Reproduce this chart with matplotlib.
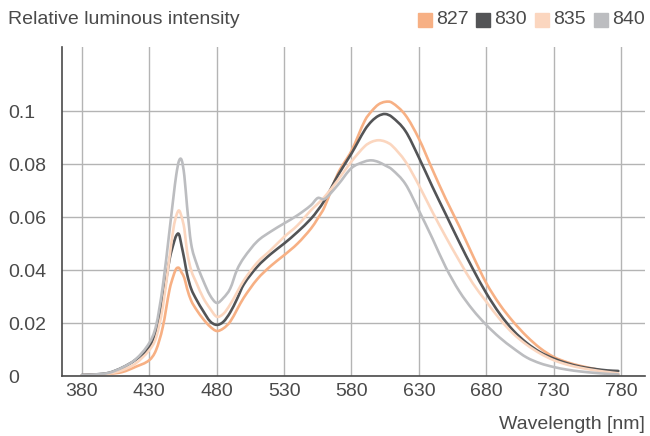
import matplotlib
matplotlib.use("Agg")
import matplotlib.pyplot as plt
from matplotlib.patches import Rectangle, PathPatch
from matplotlib.path import Path

# wavelengths [nm] and relative luminous intensity per colour temperature
wavelength = [380, 390, 400, 410, 420, 430, 435, 440, 445, 448, 450, 452, 454,
              456, 458, 461, 465, 470, 475, 480, 485, 490, 495, 500, 510, 520,
              530, 540, 550, 555, 560, 570, 580, 590, 595, 600, 605, 610, 620,
              630, 640, 650, 660, 670, 680, 690, 700, 710, 720, 730, 740, 750,
              760, 770, 778]

s827 = [0.0003, 0.0005, 0.0008, 0.0015, 0.0035, 0.0060, 0.0098, 0.0185, 0.0326,
        0.0380, 0.0405, 0.0408, 0.0390, 0.0370, 0.0330, 0.0285, 0.0250, 0.0215,
        0.0187, 0.0170, 0.0180, 0.0205, 0.0250, 0.0295, 0.0365, 0.0415, 0.0456,
        0.0500, 0.0557, 0.0595, 0.0638, 0.0765, 0.0850, 0.0965, 0.1000, 0.1025,
        0.1035, 0.1032, 0.0985, 0.0896, 0.0780, 0.0668, 0.0565, 0.0455, 0.0351,
        0.0270, 0.0205, 0.0150, 0.0105, 0.0072, 0.0052, 0.0038, 0.0027, 0.0016,
        0.0006]

s830 = [0.0004, 0.0006, 0.0012, 0.0032, 0.0062, 0.0110, 0.0172, 0.0285, 0.0440,
        0.0500, 0.0530, 0.0535, 0.0490, 0.0440, 0.0385, 0.0330, 0.0288, 0.0245,
        0.0207, 0.0193, 0.0205, 0.0240, 0.0290, 0.0345, 0.0412, 0.0460, 0.0500,
        0.0544, 0.0594, 0.0626, 0.0663, 0.0758, 0.0840, 0.0930, 0.0962, 0.0982,
        0.0989, 0.0978, 0.0925, 0.0825, 0.0715, 0.0610, 0.0505, 0.0405, 0.0313,
        0.0235, 0.0172, 0.0125, 0.0090, 0.0066, 0.0048, 0.0035, 0.0027, 0.0021,
        0.0019]

s835 = [0.0002, 0.0004, 0.0009, 0.0022, 0.0048, 0.0098, 0.0145, 0.0260, 0.0450,
        0.0560, 0.0605, 0.0625, 0.0600, 0.0555, 0.0470, 0.0400, 0.0351, 0.0295,
        0.0255, 0.0224, 0.0235, 0.0270, 0.0315, 0.0360, 0.0428, 0.0475, 0.0525,
        0.0569, 0.0626, 0.0650, 0.0676, 0.0740, 0.0810, 0.0868, 0.0884, 0.0890,
        0.0885, 0.0870, 0.0810, 0.0720, 0.0620, 0.0525, 0.0435, 0.0350, 0.0281,
        0.0215, 0.0160, 0.0118, 0.0085, 0.0060, 0.0043, 0.0031, 0.0022, 0.0015,
        0.0010]

s840 = [0.0004, 0.0006, 0.0012, 0.0032, 0.0064, 0.0125, 0.0190, 0.0340, 0.0550,
        0.0680, 0.0760, 0.0812, 0.0815, 0.0755, 0.0640, 0.0500, 0.0425, 0.0360,
        0.0305, 0.0276, 0.0295, 0.0330, 0.0400, 0.0445, 0.0508, 0.0545, 0.0576,
        0.0607, 0.0645, 0.0672, 0.0668, 0.0722, 0.0785, 0.0810, 0.0814, 0.0808,
        0.0795, 0.0780, 0.0725, 0.0625, 0.0520, 0.0410, 0.0320, 0.0250, 0.0193,
        0.0145, 0.0105, 0.0070, 0.0048, 0.0034, 0.0024, 0.0017, 0.0012, 0.0008,
        0.0006]

labels = ["827", "830", "835", "840"]
series = [s827, s830, s835, s840]
colors = ["#f7b084", "#535456", "#fbd6bf", "#bcbdc0"]

x_ticks = [380, 430, 480, 530, 580, 630, 680, 730, 780]
y_ticks = [0, 0.02, 0.04, 0.06, 0.08, 0.1]
y_tick_labels = ["0", "0.02", "0.04", "0.06", "0.08", "0.1"]

plt.rcParams['font.family'] = ['Liberation Sans', 'DejaVu Sans']
text_color = "#4a4a4a"


def smooth_path(xs, ys):
    """Cubic Bezier path through every point (cardinal tangents)."""
    n = len(xs)
    slopes = []
    for i in range(n):
        a, b = max(i - 1, 0), min(i + 1, n - 1)
        slopes.append((ys[b] - ys[a]) / (xs[b] - xs[a]))
    verts = [(xs[0], ys[0])]
    codes = [Path.MOVETO]
    for i in range(n - 1):
        h = xs[i + 1] - xs[i]
        verts += [(xs[i] + h / 3, ys[i] + slopes[i] * h / 3),
                  (xs[i + 1] - h / 3, ys[i + 1] - slopes[i + 1] * h / 3),
                  (xs[i + 1], ys[i + 1])]
        codes += [Path.CURVE4] * 3
    return Path(verts, codes)


W, H = 650, 436
fig = plt.figure(figsize=(W / 100, H / 100), dpi=100)
ax = fig.add_axes([62 / W, (H - 376) / H, (645 - 62) / W, (376 - 47) / H])

for vals, col in zip(series, colors):
    ax.add_patch(PathPatch(smooth_path(wavelength, vals), fill=False,
                           edgecolor=col, lw=1.9, capstyle='round',
                           joinstyle='round', zorder=3))

ax.set_xlim(365.2, 797.8)
ax.set_ylim(0, 0.1242)
ax.set_xticks(x_ticks)
ax.set_yticks(y_ticks)
ax.set_yticklabels(y_tick_labels)

ax.grid(True, color="#b4b4b4", lw=1.0)
ax.set_axisbelow(True)

for side in ["top", "right"]:
    ax.spines[side].set_visible(False)
for side in ["left", "bottom"]:
    ax.spines[side].set_color("#4a4a4a")
    ax.spines[side].set_linewidth(1.2)
    ax.spines[side].set_zorder(4)

ax.tick_params(axis='x', length=0, pad=5, labelsize=14, labelcolor=text_color)
ax.tick_params(axis='y', length=0, pad=39, labelsize=14, labelcolor=text_color)
for t in ax.get_yticklabels():
    t.set_horizontalalignment('left')

fig.text(8 / W, 1 - 20 / H, "Relative luminous intensity", fontsize=14,
         color=text_color, ha='left', va='center')
fig.text(645 / W, 1 - 424 / H, "Wavelength [nm]", fontsize=14,
         color=text_color, ha='right', va='center')

# legend: coloured squares with labels, top right
sq_x = [418, 476, 535, 594]
for lab, col, x0 in zip(labels, colors, sq_x):
    fig.patches.append(Rectangle((x0 / W, 1 - 27 / H), 14 / W, 14 / H,
                                 transform=fig.transFigure, color=col))
    fig.text((x0 + 18) / W, 1 - 20 / H, lab, fontsize=14, color=text_color,
             ha='left', va='center')

fig.savefig("out.png", dpi=100)
